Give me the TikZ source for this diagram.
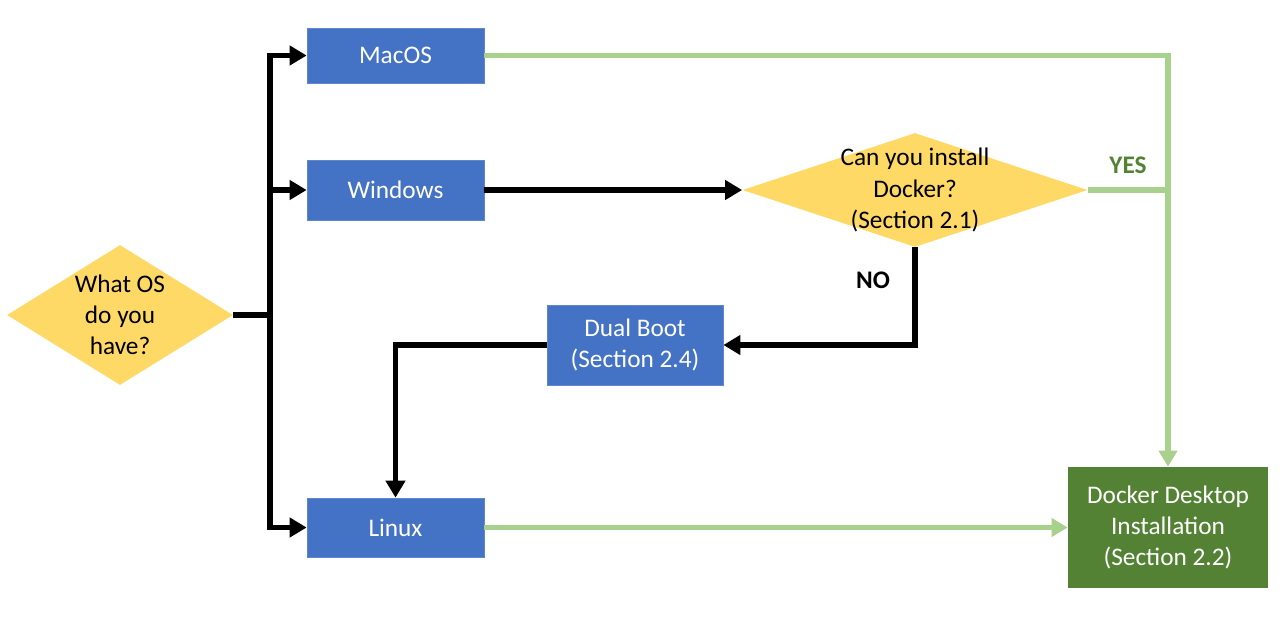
\documentclass[tikz,border=0pt]{standalone}
\usepackage{fontspec}
\setmainfont{Carlito}
\usepackage{tikz}
\usepackage{xcolor}
\usetikzlibrary{arrows.meta,shapes.geometric}
\definecolor{boxblue}{HTML}{4472C4}
\definecolor{askyellow}{HTML}{FFD966}
\definecolor{dockgreen}{HTML}{548235}
\definecolor{yesgreen}{HTML}{A9D18E}
\definecolor{yestext}{HTML}{548235}

\begin{document}
\begin{tikzpicture}[
        every node/.style={font=\fontsize{14.4}{17.8}\selectfont},
        osbox/.style={rectangle, fill=boxblue, draw=boxblue!85!white, text=white, align=center, minimum width=3.54cm, inner sep=0pt},
        ask/.style={diamond, fill=askyellow, inner sep=0pt},
        flow/.style={black, line width=3.3pt},
        flowarr/.style={flow, -{Triangle[length=0.34cm,width=0.38cm]}},
        good/.style={yesgreen, line width=3pt},
        goodarr/.style={good, -{Triangle[length=0.32cm,width=0.36cm]}}
    ]
                \useasboundingbox (0,0) rectangle (25.6,-12.32);
                \node[ask, minimum width=4.52cm, minimum height=2.8cm, label={[align=center]center:What OS\\do you\\have?}] (os) at (2.4,-6.3) {};
                \node[osbox, minimum height=1.1cm] (mac) at (7.91,-1.11) {MacOS};
                \node[osbox, minimum height=1.2cm] (win) at (7.91,-3.8) {Windows};
                \node[osbox, minimum height=1.18cm] (linux) at (7.91,-10.55) {Linux};
                \node[osbox, minimum width=3.52cm, minimum height=1.6cm] (dual) at (12.7,-6.9) {Dual Boot\\(Section 2.4)};
                \node[ask, minimum width=6.9cm, minimum height=2.28cm, label={[align=center]center:Can you install\\Docker?\\(Section 2.1)}] (can) at (18.3,-3.8) {};
                \node[rectangle, fill=dockgreen, text=white, align=center, minimum width=4cm, minimum height=2.42cm, inner sep=0pt] (dock) at (23.36,-10.55) {Docker Desktop\\Installation\\(Section 2.2)};
                \node[text=yestext, font=\fontsize{14.4}{17.8}\selectfont\bfseries] (yes) at (22.56,-3.3) {YES};
                \node[font=\fontsize{14.4}{17.8}\selectfont\bfseries] (no) at (17.46,-5.6) {NO};
                \coordinate (split) at (5.4,-6.3);
                \coordinate (join) at (23.36,-3.8);
                \draw[flow] (os.east) -- (split);
                \draw[flowarr] (split) |- (mac.west);
                \draw[flowarr] (split) |- (win.west);
                \draw[flowarr] (split) |- (linux.west);
                \draw[flowarr] (win.east) -- (can.west);
                \draw[flowarr] (can.south) |- (dual.east);
                \draw[flowarr] (dual.west) -| (linux.north);
                \draw[goodarr] (mac.east) -| (dock.north);
                \draw[good] (can.east) -- (join);
                \draw[goodarr] (linux.east) -- (dock.west);
            \end{tikzpicture}
\end{document}
